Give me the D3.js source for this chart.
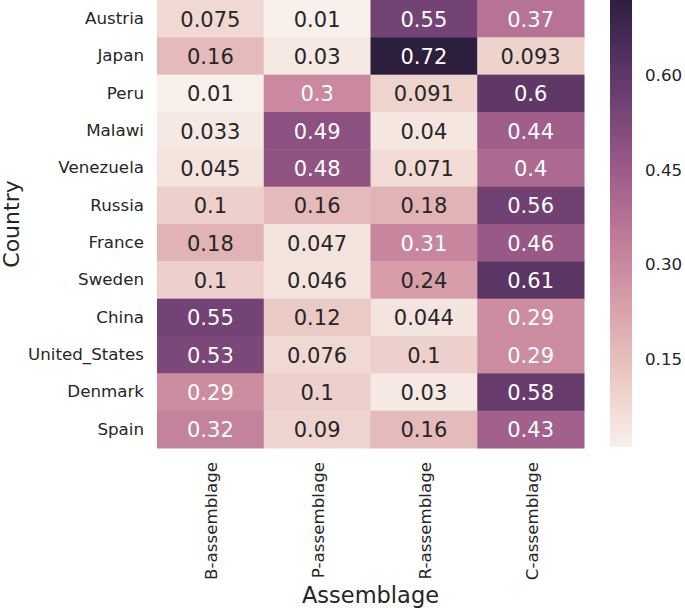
<!DOCTYPE html>
<html>
<head>
<meta charset="utf-8">
<script src="https://cdn.jsdelivr.net/npm/d3@7"></script>
<style>
  html, body { margin: 0; padding: 0; background: #fff; }
  svg { display: block; }
  text { font-family: "DejaVu Sans", sans-serif; }
</style>
</head>
<body>
<svg id="chart" width="685" height="608"></svg>
<script>
const countries = ["Austria", "Japan", "Peru", "Malawi", "Venezuela", "Russia", "France", "Sweden", "China", "United_States", "Denmark", "Spain"];
const assemblages = ["B-assemblage", "P-assemblage", "R-assemblage", "C-assemblage"];
const bValues = [0.075, 0.16, 0.01, 0.033, 0.045, 0.1, 0.18, 0.1, 0.55, 0.53, 0.29, 0.32];
const pValues = [0.01, 0.03, 0.3, 0.49, 0.48, 0.16, 0.047, 0.046, 0.12, 0.076, 0.1, 0.09];
const rValues = [0.55, 0.72, 0.091, 0.04, 0.071, 0.18, 0.31, 0.24, 0.044, 0.1, 0.03, 0.16];
const cValues = [0.37, 0.093, 0.6, 0.44, 0.4, 0.56, 0.46, 0.61, 0.29, 0.29, 0.58, 0.43];
const colorbarTicks = [0.15, 0.30, 0.45, 0.60];
const xLabel = "Assemblage";
const yLabel = "Country";

const seriesValues = [bValues, pValues, rValues, cValues];
const cells = [];
countries.forEach((c, i) => {
  assemblages.forEach((a, j) => {
    cells.push({ country: c, assemblage: a, value: seriesValues[j][i] });
  });
});

// seaborn cubehelix_palette(light=.95, dark=.15, start=0, rot=.4, hue=.8, gamma=1, as_cmap=True)
const LIGHT = 0.95, DARK = 0.15;
function cubehelixRGB(x) {
  const start = 0, rot = 0.4, gamma = 1, hue = 0.8;
  const xg = Math.pow(x, gamma);
  const a = hue * xg * (1 - xg) / 2;
  const phi = 2 * Math.PI * (start / 3 + rot * x);
  const c = Math.cos(phi), s = Math.sin(phi);
  const clip = v => Math.max(0, Math.min(1, v));
  return [
    clip(xg + a * (-0.14861 * c + 1.78277 * s)),
    clip(xg + a * (-0.29227 * c - 0.90649 * s)),
    clip(xg + a * (1.97294 * c))
  ];
}
function interp(t) {
  t = Math.max(0, Math.min(1, t));
  const rgb = cubehelixRGB(LIGHT + (DARK - LIGHT) * t);
  return d3.rgb(rgb[0] * 255, rgb[1] * 255, rgb[2] * 255).formatHex();
}
function luminance(hex) {
  const c = d3.rgb(hex);
  const lin = [c.r, c.g, c.b].map(v => {
    v = v / 255;
    return v <= 0.03928 ? v / 12.92 : Math.pow((v + 0.055) / 1.055, 2.4);
  });
  return 0.2126 * lin[0] + 0.7152 * lin[1] + 0.0722 * lin[2];
}

const allVals = cells.map(d => d.value);
const vmin = d3.min(allVals), vmax = d3.max(allVals);
const color = d3.scaleSequential(interp).domain([vmin, vmax]);

const svg = d3.select("#chart");
const hm = { left: 157, right: 584, top: 0, bottom: 448 };

const x = d3.scaleBand().domain(assemblages).range([hm.left, hm.right]).padding(0);
const y = d3.scaleBand().domain(countries).range([hm.top, hm.bottom]).padding(0);

const fmt = d3.format(".2~g");

const g = svg.append("g");
g.selectAll("rect.cell").data(cells).enter().append("rect")
  .attr("class", "cell")
  .attr("x", d => x(d.assemblage))
  .attr("y", d => y(d.country))
  .attr("width", x.bandwidth() + 0.5)
  .attr("height", y.bandwidth() + 0.5)
  .attr("fill", d => color(d.value));

g.selectAll("text.annot").data(cells).enter().append("text")
  .attr("class", "annot")
  .attr("x", d => x(d.assemblage) + x.bandwidth() / 2)
  .attr("y", d => y(d.country) + y.bandwidth() / 2 + 1)
  .attr("text-anchor", "middle")
  .attr("dominant-baseline", "central")
  .attr("font-size", "21px")
  .attr("fill", d => luminance(color(d.value)) > 0.408 ? "#262626" : "#ffffff")
  .text(d => fmt(d.value));

// Y axis (no tick lines)
const yAxis = d3.axisLeft(y).tickSize(0).tickPadding(13);
const yg = svg.append("g").attr("transform", `translate(${hm.left},0)`).call(yAxis);
yg.select(".domain").remove();
yg.selectAll("text").attr("font-size", "16.7px").attr("fill", "#262626")
  .attr("font-family", "DejaVu Sans, sans-serif");

// X axis rotated labels
const xAxis = d3.axisBottom(x).tickSize(0).tickPadding(0);
const xg = svg.append("g").attr("transform", `translate(0,${hm.bottom})`).call(xAxis);
xg.select(".domain").remove();
xg.selectAll("text")
  .attr("font-size", "16.7px").attr("fill", "#262626")
  .attr("font-family", "DejaVu Sans, sans-serif")
  .attr("text-anchor", "end")
  .attr("dy", null)
  .attr("dominant-baseline", "central")
  .attr("transform", "translate(1,14) rotate(-90)")
  .attr("x", 0).attr("y", 0);

// Axis titles
svg.append("text")
  .attr("x", (hm.left + hm.right) / 2)
  .attr("y", 603)
  .attr("text-anchor", "middle")
  .attr("font-size", "22.5px")
  .attr("fill", "#262626")
  .text(xLabel);

svg.append("text")
  .attr("transform", `translate(18.5,${(hm.top + hm.bottom) / 2}) rotate(-90)`)
  .attr("text-anchor", "middle")
  .attr("font-size", "22px")
  .attr("fill", "#262626")
  .text(yLabel);

// Colorbar
const cb = { left: 610, width: 22, top: 0, bottom: 447 };
const cy = d3.scaleLinear().domain([vmin, vmax]).range([cb.bottom, cb.top]);
const defs = svg.append("defs");
const grad = defs.append("linearGradient").attr("id", "cbgrad")
  .attr("x1", "0").attr("y1", "1").attr("x2", "0").attr("y2", "0");
d3.range(0, 1.0001, 1 / 64).forEach(t => {
  grad.append("stop").attr("offset", t).attr("stop-color", interp(t));
});
svg.append("rect")
  .attr("x", cb.left).attr("y", cy(vmax))
  .attr("width", cb.width).attr("height", cy(vmin) - cy(vmax))
  .attr("fill", "url(#cbgrad)");

const cAxis = d3.axisRight(cy).tickValues(colorbarTicks).tickSize(0).tickPadding(13)
  .tickFormat(d3.format(".2f"));
const cg = svg.append("g").attr("transform", `translate(${cb.left + cb.width},0)`).call(cAxis);
cg.select(".domain").remove();
cg.selectAll("text").attr("font-size", "16.7px").attr("fill", "#262626")
  .attr("font-family", "DejaVu Sans, sans-serif");
</script>
</body>
</html>
